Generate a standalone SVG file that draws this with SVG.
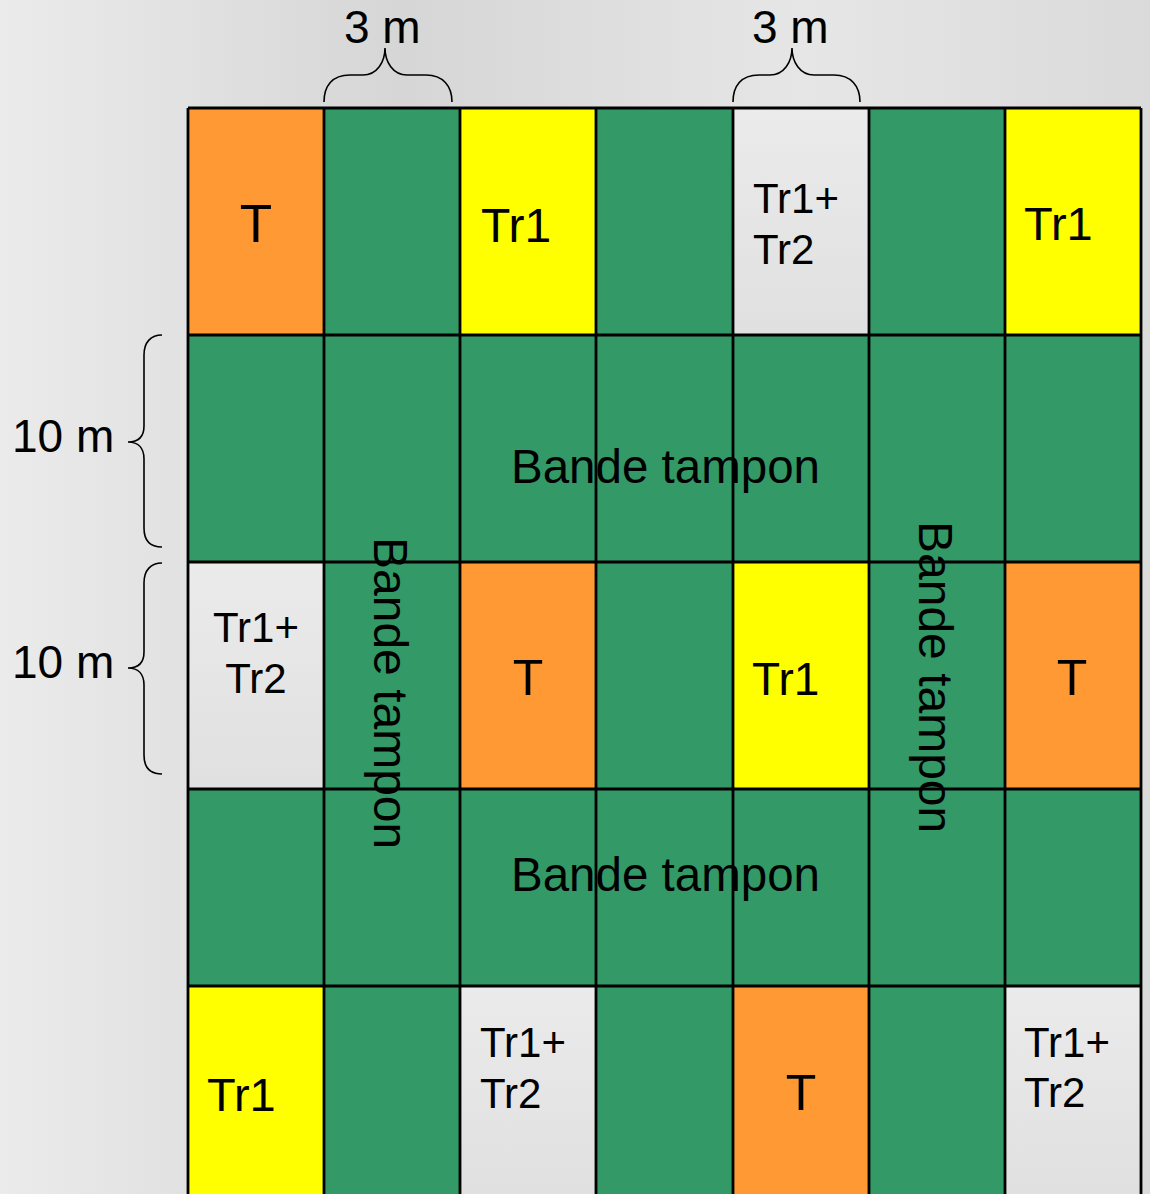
<svg xmlns="http://www.w3.org/2000/svg" width="1150" height="1194" viewBox="0 0 1150 1194">
<defs>
<linearGradient id="bg" x1="0" y1="0" x2="1" y2="0">
<stop offset="0" stop-color="#ebebeb"/>
<stop offset="0.35" stop-color="#d6d6d6"/>
<stop offset="0.7" stop-color="#e6e6e6"/>
<stop offset="1" stop-color="#dadada"/>
</linearGradient>
<linearGradient id="grayCell" x1="0" y1="0" x2="0" y2="1">
<stop offset="0" stop-color="#ebebeb"/>
<stop offset="1" stop-color="#e0e0e0"/>
</linearGradient>
</defs>
<style>
.g{fill:#339966}
.o{fill:#ff9933}
.y{fill:#ffff00}
.w{fill:url(#grayCell)}
.t{font-family:"Liberation Sans",Arial,sans-serif;fill:#000}
.grid{stroke:#000;stroke-width:2.8;fill:none}
.brace{stroke:#000;stroke-width:1.6;fill:none}
</style>
<rect x="0" y="0" width="1150" height="1194" fill="url(#bg)"/>

<g id="cells">
<g id="r1">
<rect class="o" x="188" y="108" width="136" height="227"/>
<rect class="g" x="324" y="108" width="136" height="227"/>
<rect class="y" x="460" y="108" width="136" height="227"/>
<rect class="g" x="596" y="108" width="137" height="227"/>
<rect class="w" x="733" y="108" width="136" height="227"/>
<rect class="g" x="869" y="108" width="136" height="227"/>
<rect class="y" x="1005" y="108" width="136" height="227"/>
</g>
<g id="r2"><rect class="g" x="188" y="335" width="953" height="227"/></g>
<g id="r3">
<rect class="w" x="188" y="562" width="136" height="227"/>
<rect class="g" x="324" y="562" width="136" height="227"/>
<rect class="o" x="460" y="562" width="136" height="227"/>
<rect class="g" x="596" y="562" width="137" height="227"/>
<rect class="y" x="733" y="562" width="136" height="227"/>
<rect class="g" x="869" y="562" width="136" height="227"/>
<rect class="o" x="1005" y="562" width="136" height="227"/>
</g>
<g id="r4"><rect class="g" x="188" y="789" width="953" height="197"/></g>
<g id="r5">
<rect class="y" x="188" y="986" width="136" height="208"/>
<rect class="g" x="324" y="986" width="136" height="208"/>
<rect class="w" x="460" y="986" width="136" height="208"/>
<rect class="g" x="596" y="986" width="137" height="208"/>
<rect class="o" x="733" y="986" width="136" height="208"/>
<rect class="g" x="869" y="986" width="136" height="208"/>
<rect class="w" x="1005" y="986" width="136" height="208"/>
</g>
</g>

<g id="labels">
<text class="t" x="256" y="242" font-size="53" text-anchor="middle">T</text>
<text class="t" x="481" y="242" font-size="48">Tr1</text>
<text class="t" x="753" y="213" font-size="42">Tr1+</text>
<text class="t" x="753" y="264" font-size="42">Tr2</text>
<text class="t" x="1024" y="240" font-size="47">Tr1</text>

<text class="t" x="511" y="483" font-size="47.5">Bande tampon</text>

<text class="t" x="256" y="642" font-size="42" text-anchor="middle">Tr1+</text>
<text class="t" x="256" y="693" font-size="42" text-anchor="middle">Tr2</text>
<text class="t" x="528" y="695" font-size="50" text-anchor="middle">T</text>
<text class="t" x="752" y="695" font-size="46">Tr1</text>
<text class="t" x="1072" y="695" font-size="50" text-anchor="middle">T</text>

<text class="t" x="511" y="891" font-size="47.5">Bande tampon</text>

<text class="t" x="207" y="1111" font-size="47">Tr1</text>
<text class="t" x="480" y="1057" font-size="42">Tr1+</text>
<text class="t" x="480" y="1108" font-size="42">Tr2</text>
<text class="t" x="801" y="1110" font-size="50" text-anchor="middle">T</text>
<text class="t" x="1024" y="1057" font-size="42">Tr1+</text>
<text class="t" x="1024" y="1107" font-size="42">Tr2</text>

<text class="t" font-size="48" transform="translate(374,537) rotate(90)">Bande tampon</text>
<text class="t" font-size="48" transform="translate(919,521) rotate(90)">Bande tampon</text>
</g>

<g id="grid">
<path class="grid" d="M188,108 H1141 M188,335 H1141 M188,562 H1141 M188,789 H1141 M188,986 H1141"/>
<path class="grid" d="M188,108 V1194 M324,108 V1194 M460,108 V1194 M596,108 V1194 M733,108 V1194 M869,108 V1194 M1005,108 V1194 M1141,108 V1194"/>
</g>

<g id="dimensions">
<text class="t" x="344" y="43" font-size="46">3 m</text>
<text class="t" x="752" y="43" font-size="46">3 m</text>
<path class="brace" d="M324,102 C324,86 332,75 350,75 L363,75 C377,75 385,62 385,48 C385,62 393,75 407,75 L426,75 C443,75 452,86 452,102"/>
<path class="brace" d="M733,102 C733,86 741,75 759,75 L770,75 C784,75 792,62 792,48 C792,62 800,75 814,75 L834,75 C851,75 860,86 860,102"/>
<text class="t" x="12" y="452" font-size="46">10 m</text>
<text class="t" x="12" y="678" font-size="46">10 m</text>
<path class="brace" d="M162,335 C151,335 144,342 144,355 L144,426 C144,437 138,442 128,442 C138,442 144,448 144,459 L144,528 C144,541 151,547 162,547"/>
<path class="brace" d="M162,563 C151,563 144,570 144,583 L144,652 C144,663 138,668 128,668 C138,668 144,674 144,685 L144,755 C144,768 151,774 162,774"/>
</g>
</svg>
